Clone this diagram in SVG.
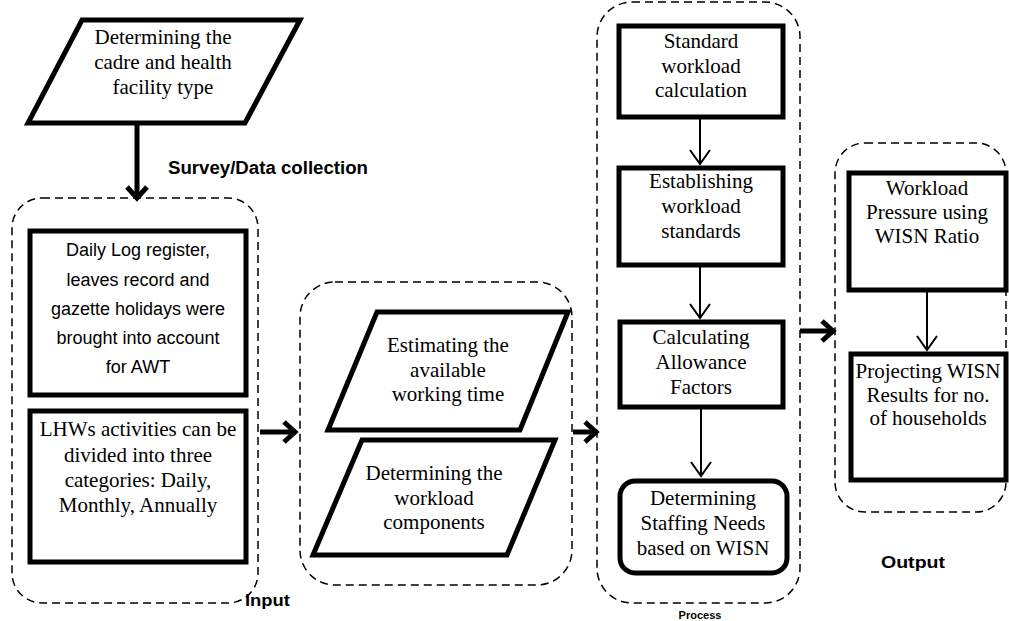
<svg xmlns="http://www.w3.org/2000/svg" width="1009" height="621" viewBox="0 0 1009 621">
<style>
.box{fill:#fff;stroke:#000;stroke-width:5}
.grp{fill:none;stroke:#000;stroke-width:1.5;stroke-dasharray:8 5}
.serif{font-family:"Liberation Serif","Times New Roman",serif;font-size:21px;fill:#000;text-anchor:middle}
.sans{font-family:"Liberation Sans",Arial,sans-serif;font-size:18px;fill:#000;text-anchor:middle}
.lbl{font-family:"Liberation Sans",Arial,sans-serif;font-weight:bold;fill:#000}
.thin{stroke:#000;stroke-width:2;fill:none}
.thick{stroke:#000;stroke-width:5;fill:none}
</style>
<defs>
<marker id="mThin" markerUnits="userSpaceOnUse" viewBox="-20 -15 25 30" refX="0" refY="0" markerWidth="25" markerHeight="30" orient="auto" overflow="visible">
<path d="M-14,-10 L0,0 L-14,10" fill="none" stroke="#000" stroke-width="2"/>
</marker>
<marker id="mThick" markerUnits="userSpaceOnUse" viewBox="-20 -15 25 30" refX="0" refY="0" markerWidth="25" markerHeight="30" orient="auto" overflow="visible">
<path d="M-12,-10 L-1,0 L-12,10" fill="none" stroke="#000" stroke-width="5"/>
</marker>
</defs>
<rect width="1009" height="621" fill="#fff"/>

<g id="containers">
<rect id="input-group" class="grp" x="12" y="198" width="246" height="405" rx="30"/>
<rect id="estimate-group" class="grp" x="300" y="282" width="272" height="303" rx="35"/>
<rect id="process-group" class="grp" x="597" y="2" width="203" height="601" rx="35"/>
<rect id="output-group" class="grp" x="835" y="143" width="171" height="369" rx="30"/>
</g>

<g id="connectors">
<line class="thick" x1="137" y1="123" x2="137" y2="199" marker-end="url(#mThick)"/>
<line class="thick" x1="260" y1="432" x2="296" y2="432" marker-end="url(#mThick)"/>
<line class="thick" x1="573" y1="432" x2="597" y2="432" marker-end="url(#mThick)"/>
<line class="thick" x1="800" y1="331" x2="834" y2="331" marker-end="url(#mThick)"/>
<line class="thin" x1="700" y1="117" x2="700" y2="164" marker-end="url(#mThin)"/>
<line class="thin" x1="700" y1="265" x2="700" y2="318" marker-end="url(#mThin)"/>
<line class="thin" x1="701" y1="407" x2="701" y2="476" marker-end="url(#mThin)"/>
<line class="thin" x1="927" y1="290" x2="927" y2="350" marker-end="url(#mThin)"/>
</g>

<g id="n-cadre">
<polygon class="box" points="82,20 300,20 245,123 28,123"/>
<text class="serif"><tspan x="163" y="44">Determining the</tspan><tspan x="163" y="69">cadre and health</tspan><tspan x="163" y="94">facility type</tspan></text>
</g>
<g id="l-survey"><text class="lbl" x="168" y="174" font-size="18" textLength="200" lengthAdjust="spacingAndGlyphs">Survey/Data collection</text></g>

<g id="n-daily-log">
<rect class="box" x="30" y="231" width="216" height="164"/>
<text class="sans"><tspan x="138" y="256">Daily Log register,</tspan><tspan x="138" y="285.5">leaves record and</tspan><tspan x="138" y="315">gazette holidays were</tspan><tspan x="138" y="344">brought into account</tspan><tspan x="138" y="373">for AWT</tspan></text>
</g>
<g id="n-lhw">
<rect class="box" x="30" y="411" width="216" height="151"/>
<text class="serif"><tspan x="138" y="436">LHWs activities can be</tspan><tspan x="138" y="461.5">divided into three</tspan><tspan x="138" y="487">categories: Daily,</tspan><tspan x="138" y="512">Monthly, Annually</tspan></text>
</g>
<g id="l-input"><text class="lbl" x="245" y="606" font-size="17" textLength="45" lengthAdjust="spacingAndGlyphs">Input</text></g>

<g id="n-awt">
<polygon class="box" points="377,312 568,312 520,430 328,430"/>
<text class="serif"><tspan x="448" y="352">Estimating the</tspan><tspan x="448" y="377">available</tspan><tspan x="448" y="401">working time</tspan></text>
</g>
<g id="n-components">
<polygon class="box" points="362,440 555,440 507,555 313,555"/>
<text class="serif"><tspan x="434" y="480">Determining the</tspan><tspan x="434" y="505">workload</tspan><tspan x="434" y="529">components</tspan></text>
</g>

<g id="n-standard">
<rect class="box" x="619" y="26" width="164" height="91"/>
<text class="serif"><tspan x="701" y="48">Standard</tspan><tspan x="701" y="73">workload</tspan><tspan x="701" y="97">calculation</tspan></text>
</g>
<g id="n-establishing">
<rect class="box" x="619" y="168" width="164" height="97"/>
<text class="serif"><tspan x="701" y="188">Establishing</tspan><tspan x="701" y="213">workload</tspan><tspan x="701" y="238">standards</tspan></text>
</g>
<g id="n-allowance">
<rect class="box" x="620" y="322" width="163" height="85"/>
<text class="serif"><tspan x="701" y="344">Calculating</tspan><tspan x="701" y="369">Allowance</tspan><tspan x="701" y="394">Factors</tspan></text>
</g>
<g id="n-staffing">
<rect class="box" x="620" y="481" width="167" height="92" rx="15"/>
<text class="serif"><tspan x="703" y="505">Determining</tspan><tspan x="703" y="530">Staffing Needs</tspan><tspan x="703" y="555">based on WISN</tspan></text>
</g>
<g id="l-process"><text class="lbl" x="700" y="619" font-size="11" text-anchor="middle">Process</text></g>

<g id="n-pressure">
<rect class="box" x="849" y="173" width="157" height="117"/>
<text class="serif"><tspan x="927" y="195">Workload</tspan><tspan x="927" y="219">Pressure using</tspan><tspan x="927" y="243">WISN Ratio</tspan></text>
</g>
<g id="n-projecting">
<rect class="box" x="851" y="354" width="155" height="126"/>
<text class="serif"><tspan x="928" y="378">Projecting WISN</tspan><tspan x="928" y="402">Results for no.</tspan><tspan x="928" y="425">of households</tspan></text>
</g>
<g id="l-output"><text class="lbl" x="913" y="568" font-size="17" text-anchor="middle" textLength="64" lengthAdjust="spacingAndGlyphs">Output</text></g>
</svg>
